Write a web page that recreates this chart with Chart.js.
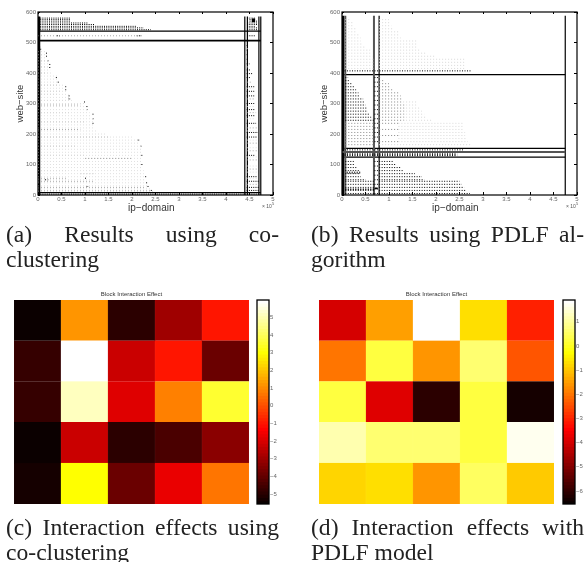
<!DOCTYPE html>
<html>
<head>
<meta charset="utf-8">
<script src="https://cdn.jsdelivr.net/npm/chart.js@4"></script>
<style>
  html, body { margin: 0; padding: 0; background: #fff; overflow: hidden; }
  body { width: 584px; height: 562px; position: relative; }
  .box { position: absolute; }
  .box canvas { filter: blur(0.45px); }
  .cap { position: absolute; width: 273px; font: 23.6px/24.5px "Liberation Serif", serif; color: #222; filter: blur(0.35px); }
  .cap div { white-space: nowrap; }
  .cap .just { white-space: normal; text-align: justify; text-align-last: justify; }
  .exp { position: absolute; font: 5px "Liberation Sans", sans-serif; color: #555; }
  .exp sup { font-size: 4px; line-height: 0; }
</style>
</head>
<body>
<div class="box" style="left:0;top:0;width:292px;height:225px"><canvas id="scatterA"></canvas></div>
<div class="box" style="left:292px;top:0;width:292px;height:225px"><canvas id="scatterB"></canvas></div>
<div class="box" style="left:14px;top:285px;width:235px;height:220px"><canvas id="heatC"></canvas></div>
<div class="box" style="left:319px;top:285px;width:235px;height:220px"><canvas id="heatD"></canvas></div>
<div class="box" style="left:256px;top:290px;width:30px;height:225px"><canvas id="barC"></canvas></div>
<div class="box" style="left:562px;top:290px;width:22px;height:225px"><canvas id="barD"></canvas></div>
<span class="exp" style="left:262px;top:203px">× 10<sup>5</sup></span>
<span class="exp" style="left:566px;top:203px">× 10<sup>5</sup></span>
<div class="cap" style="left:6px;top:222px"><div class="just">(a) Results using co-</div><div>clustering</div></div>
<div class="cap" style="left:311px;top:222px"><div class="just">(b) Results using PDLF al-</div><div>gorithm</div></div>
<div class="cap" style="left:6px;top:515px"><div class="just">(c) Interaction effects using</div><div>co-clustering</div></div>
<div class="cap" style="left:311px;top:515px"><div class="just">(d) Interaction effects with</div><div>PDLF model</div></div>
<script>
// Tick labels
const xTickLabels = ['0', '0.5', '1', '1.5', '2', '2.5', '3', '3.5', '4', '4.5', '5'];
const yTickLabels = ['0', '100', '200', '300', '400', '500', '600'];
const barTicksC = ['−5', '−4', '−3', '−2', '−1', '0', '1', '2', '3', '4', '5'];
const barTicksD = ['−6', '−5', '−4', '−3', '−2', '−1', '0', '1'];

// Dotted rows: [web-site, ip-domain from, ip-domain to]
const aDark = [
  [580,0,.7],[575,0,.7],[570,0,.7],[564,0,1.05],[559,0,1.2],[553,0,2.1],[548,0,2.25],[542,0,2.4],
  [3,0,4.72],[522,.4,.47],[522,2.1,2.2],
  [495,0,.03],[485,0,.05],[478,0,.07],[465,.17,.2],[455,.17,.2],[440,.2,.24],[428,.24,.28],[418,.24,.28],
  [385,.38,.41],[370,.42,.46],[355,.58,.6],[345,.58,.6],[325,.65,.68],[315,.65,.7],[305,.98,1],
  [290,1.03,1.06],[280,1.03,1.06],[265,1.16,1.18],[250,1.16,1.18],[235,1.16,1.18],[180,2.12,2.17],
  [160,2.18,2.2],[130,2.2,2.22],[100,2.2,2.24],[60,2.28,2.31],[40,2.3,2.33],[28,2.33,2.36],
  [50,.15,.22],[55,1,1.03],[28,1.03,1.08],[15,2.4,2.44],
  [580,4.45,4.62],[575,4.5,4.62],[570,4.5,4.66],[564,4.45,4.66],[559,4.45,4.66],[553,4.45,4.62],
  [548,4.45,4.66],[542,4.45,4.68],[522,4.45,4.62],
  [490,4.44,4.46],[475,4.44,4.47],[460,4.44,4.48],[445,4.44,4.48],[430,4.44,4.5],[410,4.44,4.52],
  [398,4.44,4.56],[385,4.44,4.52],[355,4.44,4.6],[340,4.44,4.6],[325,4.44,4.6],[300,4.44,4.6],
  [280,4.44,4.62],[260,4.44,4.62],[235,4.44,4.64],[205,4.44,4.68],[190,4.44,4.66],[130,4.44,4.62],
  [60,4.44,4.66],[45,4.44,4.7],[25,4.44,4.7],[15,4.44,4.7]
];
const aMid = [
  [522,0,2.2],[460,0,.1],[440,0,.15],[420,0,.2],[400,0,.2],[360,0,.45],[340,0,.5],[330,0,.4],
  [310,0,.6],[295,0,.9],[270,0,.7],[240,0,1],[215,0,.9],[190,0,1.5],[160,0,.8],[130,0,1],
  [120,1,2],[100,0,.9],[80,0,.6],[70,.9,1.2],[55,0,.6],[45,0,1.2],[25,0,2.3],[14,0,2.4],
  [370,4.44,4.56],[315,4.44,4.6],[270,4.44,4.64],[220,4.44,4.66],[170,4.44,4.68],[145,4.44,4.66],
  [115,4.44,4.68],[85,4.44,4.68],[35,4.44,4.7]
];
const aFaint = [
  [470,0,.18],[460,0,.18],[450,0,.18],[440,0,.22],[430,0,.25],[420,0,.26],[410,0,.26],[400,0,.3],
  [390,0,.4],[380,0,.42],[370,0,.45],[360,0,.58],[350,0,.58],[340,0,.6],[330,0,.65],[320,0,.68],
  [310,0,.72],[300,0,1],[290,0,1.02],[280,0,1.05],[270,0,1.1],[260,0,1.15],[250,0,1.18],[240,0,1.18],
  [230,0,1.18],[220,0,1.2],[210,0,1.25],[200,0,1.45],[190,0,2],[180,0,2.12],[170,0,2.15],[160,0,2.2],
  [150,0,2.2],[140,0,2.2],[130,0,2.2],[120,0,2.2],[110,0,2.2],[100,0,2.22],[90,0,2.22],[80,0,2.25],
  [70,0,2.25],[60,0,2.28],[50,0,2.3],[40,0,2.3],[30,0,2.33],[20,0,2.4],[12,0,2.45],
  [480,4.44,4.46],[420,4.44,4.5],[350,4.44,4.58],[290,4.44,4.62],[250,4.44,4.62],[210,4.44,4.68],
  [180,4.44,4.68],[155,4.44,4.68],[125,4.44,4.68],[95,4.44,4.68],[75,4.44,4.68],[55,4.44,4.68]
];
// Solid rules and columns, [web-site, from, to] and [ip-domain, from, to]
const aRows = [[537,0,4.74],[507,0,4.74],[505,0,4.74],[8,0,4.74],[577,4.55,4.62],[574,4.55,4.62],[571,4.55,4.62],[568,4.55,4.62]];
const aCols = [[.012,0,585],[.035,0,585],[4.4,0,585],[4.455,0,585],[4.7,0,585],[4.74,0,585]];

// Dotted rows
const bDark = [
  [407,0,2.75],[135,0,2.45],[132,0,2.45],[129,0,2.45],[148,0,2.6],
  [110,.07,.25],[100,.07,.28],[90,.07,.33],[80,.07,.36],[70,.07,.38],[60,.07,.4],[50,.07,.5],[45,.07,.68],
  [35,.07,.68],[25,.07,.68],[15,.07,.68],[5,.07,.68],[75,.1,.4],[72,.1,.4],[20,.07,.68],[18,.07,.68],
  [110,.79,1.1],[100,.79,1.15],[90,.79,1.25],[80,.79,1.3],[70,.79,1.55],[60,.79,1.7],[50,.79,1.75],
  [45,.79,2.5],[35,.79,2.55],[25,.79,2.6],[15,.79,2.65],[5,.79,2.72],
  [385,.69,.78],[370,.69,.78],[355,.69,.78],[340,.69,.78],[325,.69,.78],[310,.69,.78],[295,.69,.78],
  [280,.69,.78],[265,.69,.78],[250,.69,.78],[235,.69,.78],[220,.69,.78],[205,.69,.78],[190,.69,.78],
  [175,.69,.78],[110,.69,.78],[95,.69,.78],[80,.69,.78],[65,.69,.78],[50,.69,.78],[35,.69,.78],[20,.69,.78],[5,.69,.78],
  [385,.07,.13],[375,.07,.15],[365,.07,.22],[355,.07,.25],[345,.07,.3],[335,.07,.35],[325,.07,.38],[315,.07,.45],
  [305,.07,.47],[295,.07,.5],[285,.07,.52],[275,.07,.55],[265,.07,.6],[255,.07,.62],[245,.07,.68]
];
const bMid = [
  [235,.07,.68],[225,.07,.68],[215,.07,.68],[205,.07,.68],[195,.07,.68],[185,.07,.68],[175,.07,.68],[165,.07,.68],
  [385,.79,.85],[375,.79,.9],[365,.79,1],[355,.79,1.02],[345,.79,1.1],[335,.79,1.2],[325,.79,1.25],[315,.79,1.28],
  [305,.79,1.3],[295,.79,1.35],[285,.79,1.35],[275,.79,1.35],[265,.79,1.35],[255,.79,1.35],[245,.79,1.35],
  [235,.79,1.2],[215,.79,1.2],[195,.79,1.2],[175,.79,1.2]
];
const bFaint = [
  [575,.07,.17],[565,.07,.25],[555,.07,.25],[545,.07,.3],[535,.07,.3],[525,.07,.35],[515,.07,.4],[505,.07,.4],
  [495,.07,.45],[485,.07,.5],[475,.07,.6],[465,.07,.6],[455,.07,.65],[445,.07,.68],[435,.07,.68],[425,.07,.68],[415,.07,.68],
  [575,.79,1],[565,.79,1.02],[555,.79,1.05],[545,.79,1.1],[535,.79,1.2],[525,.79,1.2],[515,.79,1.25],[505,.79,1.6],
  [495,.79,1.6],[485,.79,1.6],[475,.79,1.65],[465,.79,1.8],[455,.79,2],[445,.79,2.6],[435,.79,2.6],[425,.79,2.62],[415,.79,2.62],
  [305,1.3,1.6],[295,1.3,1.6],[285,1.3,1.65],[275,1.3,1.7],[265,1.3,1.75],[255,1.3,1.8],[245,1.3,1.9],
  [235,1.2,2.6],[225,1.2,2.6],[215,1.2,2.6],[205,1.2,2.62],[195,1.2,2.62],[185,1.2,2.65],[175,1.2,2.68],[165,.79,2.75]
];
const bRows = [[395,0,4.75],[153,0,4.75],[124,0,4.75],[21,.68,.76],[23,.68,.76]];
const bCols = [[.012,0,588],[.035,0,588],[.79,0,588],[4.75,0,588]];
const bGrayRows = [[141,0,4.75]];
const bGrayCols = [[.07,0,588],[.68,0,588]];

// Block effects, top row first
const effectsC = [
  [-5.5, 1.19, -4.95, -3.0, -0.95],
  [-4.78, 5.98, -2.3, -0.95, -3.95],
  [-4.78, 5.3, -1.9, 0.93, 3.64],
  [-5.5, -2.3, -5.06, -4.38, -3.4],
  [-5.34, 3.09, -3.95, -1.76, 0.67]
];
const effectsD = [
  [-4.05, -1.39, 1.9, -0.59, -2.99],
  [-1.98, 0.3, -1.6, 0.72, -2.4],
  [0.3, -3.86, -6.08, 0.3, -6.47],
  [1.23, 0.72, 0.75, 0.3, 1.77],
  [-0.8, -0.59, -1.6, 0.59, -0.88]
];
const rangeC = [-5.57, 5.98];
const rangeD = [-6.54, 1.9];
const blockColumns = ['1', '2', '3', '4', '5'];

const sans = '"Liberation Sans", sans-serif';
const tickGray = '#666';

// Black frame round the plot area
const frame = {
  id: 'frame',
  afterDraw(chart) {
    const a = chart.chartArea, c = chart.ctx;
    c.save();
    c.strokeStyle = '#000';
    c.lineWidth = chart.options.frameWidth || 1.2;
    c.strokeRect(a.left, a.top, a.right - a.left, a.bottom - a.top);
    c.restore();
  }
};

function rowsToLine(rows) {
  const pts = [];
  rows.forEach(r => { pts.push({ x: r[1], y: r[0] }, { x: r[2], y: r[0] }, { x: r[2], y: null }); });
  return pts;
}
function colsToLine(cols) {
  const pts = [];
  cols.forEach(r => { pts.push({ x: r[0], y: r[1] }, { x: r[0], y: r[2] }, { x: r[0], y: null }); });
  return pts;
}
function lineSet(data, color, width, dash) {
  return { data, borderColor: color, borderWidth: width, borderDash: dash || [], showLine: true, pointRadius: 0, borderCapStyle: 'butt', spanGaps: false };
}

function scatterPanel(id, left, sets) {
  new Chart(document.getElementById(id), {
    type: 'scatter',
    data: { datasets: sets },
    plugins: [frame],
    options: {
      responsive: true, maintainAspectRatio: false, animation: false,
      layout: { padding: { top: 12, right: 292 - left - 235, bottom: 0, left: 0 } },
      plugins: { legend: { display: false }, tooltip: { enabled: false } },
      scales: {
        x: {
          type: 'linear', min: 0, max: 5, position: 'bottom',
          afterFit: s => { s.height = 30; },
          border: { display: false },
          grid: { drawOnChartArea: false, tickLength: -3, color: '#000' },
          ticks: { stepSize: .5, padding: 4, maxRotation: 0, autoSkip: false, color: tickGray, font: { size: 6, family: sans }, callback: (v, i) => xTickLabels[i] },
          // trailing no-break spaces pull the centred title a little to the left, as in the original
          title: { display: true, text: 'ip−domain\u00a0\u00a0\u00a0', color: '#333', font: { size: 10, family: sans }, padding: { top: 0, bottom: 11 } }
        },
        y: {
          type: 'linear', min: 0, max: 600, position: 'left',
          afterFit: s => { s.width = left; },
          border: { display: false },
          grid: { drawOnChartArea: false, tickLength: -2, color: '#000' },
          ticks: { stepSize: 100, padding: 4, color: tickGray, font: { size: 6, family: sans }, callback: (v, i) => yTickLabels[i] },
          title: { display: true, text: 'web−site', color: '#333', font: { size: 9.5, family: sans }, padding: { top: left - 23, bottom: 0 } }
        },
        xTop: {
          type: 'linear', min: 0, max: 5, position: 'top',
          afterFit: s => { s.height = 0; },
          border: { display: false },
          grid: { drawOnChartArea: false, tickLength: -2, color: '#000' },
          ticks: { stepSize: .5, display: false }
        },
        yRight: {
          type: 'linear', min: 0, max: 600, position: 'right',
          afterFit: s => { s.width = 0; },
          border: { display: false },
          grid: { drawOnChartArea: false, tickLength: -3, color: '#000' },
          ticks: { stepSize: 100, display: false }
        }
      }
    }
  });
}

scatterPanel('scatterA', 38, [
  lineSet(rowsToLine(aFaint), '#e0e0e0', 1, [1, 2]),
  lineSet(rowsToLine(aMid), '#a8a8a8', 1, [1, 2]),
  lineSet(rowsToLine(aDark), '#000', 1, [1, 1.2]),
  lineSet(rowsToLine(aRows), '#000', 1.2),
  lineSet(colsToLine(aCols), '#000', 1.2)
]);
scatterPanel('scatterB', 50, [
  lineSet(rowsToLine(bFaint), '#d8d8d8', 1, [1, 2]),
  lineSet(rowsToLine(bMid), '#888', 1, [1, 2]),
  lineSet(rowsToLine(bDark), '#000', 1, [1, 1.5]),
  lineSet(rowsToLine(bGrayRows), '#555', 2),
  lineSet(colsToLine(bGrayCols), '#555', 2),
  lineSet(rowsToLine(bRows), '#000', 1.2),
  lineSet(colsToLine(bCols), '#000', 1.2)
]);

// MATLAB "hot" with 64 levels
function hot(t) {
  const i = Math.round(Math.min(1, Math.max(0, t)) * 63);
  const r = Math.min(1, (i + 1) / 24);
  const g = Math.min(1, Math.max(0, (i - 23) / 24));
  const b = Math.min(1, Math.max(0, (i - 47) / 16));
  return `rgb(${Math.round(r * 255)},${Math.round(g * 255)},${Math.round(b * 255)})`;
}

function heatPanel(id, effects, range) {
  const rows = effects.slice().reverse();
  new Chart(document.getElementById(id), {
    type: 'bar',
    data: {
      labels: blockColumns,
      datasets: rows.map(row => {
        const colors = row.map(v => hot((v - range[0]) / (range[1] - range[0])));
        return { data: row.map(() => 1), backgroundColor: colors, borderColor: colors, borderWidth: .4, barPercentage: 1, categoryPercentage: 1 };
      })
    },
    options: {
      responsive: true, maintainAspectRatio: false, animation: false,
      plugins: {
        legend: { display: false }, tooltip: { enabled: false },
        title: { display: true, text: 'Block Interaction Effect', color: '#333', font: { size: 6, weight: 'normal', family: sans }, padding: { top: 5.8, bottom: 2 } }
      },
      layout: { padding: { bottom: 1 } },
      scales: {
        x: { stacked: true, display: false },
        y: { stacked: true, display: false, min: 0, max: 5 }
      }
    }
  });
}
heatPanel('heatC', effectsC, rangeC);
heatPanel('heatD', effectsD, rangeD);

function colorBar(id, range, labels, width) {
  const steps = [];
  for (let i = 0; i < 64; i++) steps.push(i);
  const span = range[1] - range[0];
  new Chart(document.getElementById(id), {
    type: 'bar',
    data: {
      labels: ['bar'],
      datasets: steps.map(i => ({
        // each step runs a bit into the next one so no seam shows between them
        data: [[range[0] + span * i / 64, Math.min(range[1], range[0] + span * (i + 1.6) / 64)]],
        backgroundColor: hot(i / 63), borderWidth: 0,
        grouped: false, order: 64 - i, barPercentage: 1, categoryPercentage: 1
      }))
    },
    plugins: [frame],
    options: {
      responsive: true, maintainAspectRatio: false, animation: false,
      frameWidth: 1.3,
      layout: { padding: { top: 10, bottom: 11, left: 1 } },
      plugins: { legend: { display: false }, tooltip: { enabled: false } },
      scales: {
        x: { display: false },
        y: {
          position: 'right', min: range[0], max: range[1],
          afterBuildTicks: s => { s.ticks = labels.map((t, i) => ({ value: Math.ceil(range[0]) + i })); },
          afterFit: s => { s.width = width; },
          border: { display: false },
          grid: { drawOnChartArea: false, tickLength: -2, color: '#000' },
          ticks: { padding: 3, color: tickGray, font: { size: 6, family: sans }, callback: (v, i) => labels[i] }
        }
      }
    }
  });
}
colorBar('barC', rangeC, barTicksC, 17);
colorBar('barD', rangeD, barTicksD, 9);
</script>
</body>
</html>
